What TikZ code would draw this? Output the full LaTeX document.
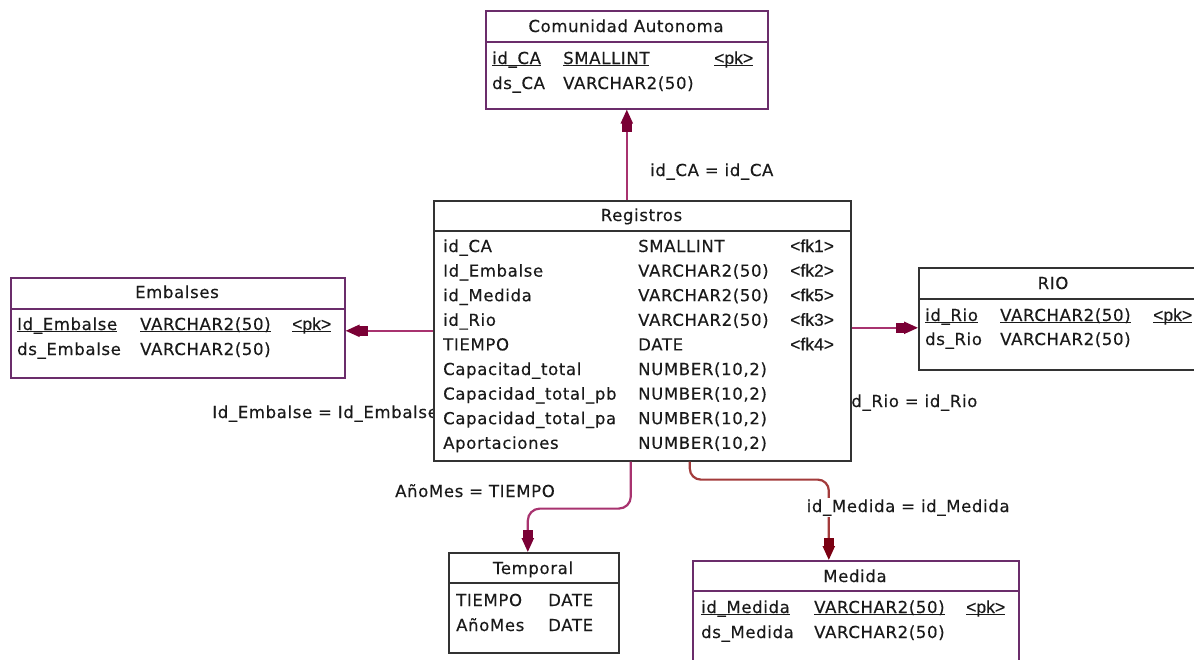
\documentclass[tikz,border=0pt]{standalone}
\usepackage{fontspec}
\setmainfont[LetterSpace=4,FakeBold=0.35]{DejaVu Sans}
\newfontfamily\tagfont[FakeBold=0.35]{Liberation Sans}
\usetikzlibrary{arrows.meta}

\definecolor{entline}{HTML}{6B2D6B}
\definecolor{tabline}{HTML}{333333}
\definecolor{relline}{HTML}{A8336F}
\definecolor{reltip}{HTML}{7A0035}
\definecolor{medline}{HTML}{A33B3B}
\definecolor{medtip}{HTML}{7A0012}
\definecolor{ink}{HTML}{1A1A1A}

% underline a key column, the rule sitting on the underscore line
\newcommand\pkul[1]{\setbox0=\hbox{#1}\rlap{\rule[-2.4pt]{\wd0}{1.1pt}}\box0}
% key tags such as <pk> and <fk1>
\newcommand\keytag[1]{{\tagfont\fontsize{17.5}{20}\selectfont #1}}

\tikzset{
  tabbox/.style={draw=#1, line width=1.6pt, fill=white, anchor=north west, inner sep=0pt},
  tabbox/.default=entline,
  sepline/.style={draw=#1, line width=1.4pt},
  sepline/.default=entline,
  title/.style={inner sep=0pt, anchor=base, text=ink},
  row/.style={inner sep=0pt, anchor=base west, text=ink},
  rellabel/.style={inner sep=0pt, text=ink},
  reltipshape/.style={-{Rectangle[length=11pt,width=9.5pt,color=#1,sep=-3pt]Triangle[length=14pt,width=12pt,color=#1]}},
  rel/.style={draw=relline, line width=2.2pt, reltipshape=reltip},
  relmed/.style={draw=medline, line width=2.2pt, reltipshape=medtip},
}

\begin{document}
\begin{tikzpicture}[x=1pt,y=-1pt,font=\fontsize{16.5}{20}\selectfont]
\useasboundingbox (0,0) rectangle (1194,659);
\fill[white] (0,0) rectangle (1194,659);
\clip (0,0) rectangle (1194,659);

% join labels partly hidden behind the Registros table
\node[rellabel, anchor=base east] (lblemb) at (438,418) {Id\_Embalse = Id\_Embalse};
\node[rellabel, anchor=base west] (lblrio) at (846,407) {id\_Rio = id\_Rio};

% ---------- Comunidad Autonoma ----------
\node[tabbox, minimum width=282pt, minimum height=98pt] (ca) at (485,10) {};
\draw[sepline] (ca.west |- 0,42) -- (ca.east |- 0,42);
\node[title] (catitle) at (626,32) {Comunidad Autonoma};
\node[row] (car1) at (492,64) {\makebox[71pt][l]{\pkul{id\_CA}}\makebox[151pt][l]{\pkul{SMALLINT}}\pkul{\keytag{<pk>}}};
\node[row] (car2) at (492,89) {\makebox[71pt][l]{ds\_CA}VARCHAR2(50)};

% ---------- Registros ----------
\node[tabbox=tabline, minimum width=417pt, minimum height=260pt] (reg) at (433,200) {};
\draw[sepline=tabline] (reg.west |- 0,231) -- (reg.east |- 0,231);
\node[title] (regtitle) at (641.5,221) {Registros};
\node[row] (regr1) at (443,252.0) {\makebox[195pt][l]{id\_CA}\makebox[152pt][l]{SMALLINT}\keytag{<fk1>}};
\node[row] (regr2) at (443,276.6) {\makebox[195pt][l]{Id\_Embalse}\makebox[152pt][l]{VARCHAR2(50)}\keytag{<fk2>}};
\node[row] (regr3) at (443,301.2) {\makebox[195pt][l]{id\_Medida}\makebox[152pt][l]{VARCHAR2(50)}\keytag{<fk5>}};
\node[row] (regr4) at (443,325.8) {\makebox[195pt][l]{id\_Rio}\makebox[152pt][l]{VARCHAR2(50)}\keytag{<fk3>}};
\node[row] (regr5) at (443,350.4) {\makebox[195pt][l]{TIEMPO}\makebox[152pt][l]{DATE}\keytag{<fk4>}};
\node[row] (regr6) at (443,375.0) {\makebox[195pt][l]{Capacitad\_total}NUMBER(10,2)};
\node[row] (regr7) at (443,399.6) {\makebox[195pt][l]{Capacidad\_total\_pb}NUMBER(10,2)};
\node[row] (regr8) at (443,424.2) {\makebox[195pt][l]{Capacidad\_total\_pa}NUMBER(10,2)};
\node[row] (regr9) at (443,448.8) {\makebox[195pt][l]{Aportaciones}NUMBER(10,2)};

% ---------- Embalses ----------
\node[tabbox, minimum width=334pt, minimum height=100pt] (emb) at (10,277) {};
\draw[sepline] (emb.west |- 0,309) -- (emb.east |- 0,309);
\node[title] (embtitle) at (177,298) {Embalses};
\node[row] (embr1) at (17,330) {\makebox[123pt][l]{\pkul{Id\_Embalse}}\makebox[152pt][l]{\pkul{VARCHAR2(50)}}\pkul{\keytag{<pk>}}};
\node[row] (embr2) at (17,355) {\makebox[123pt][l]{ds\_Embalse}VARCHAR2(50)};

% ---------- RIO ----------
\node[tabbox=tabline, minimum width=278pt, minimum height=102pt] (rio) at (918,267) {};
\draw[sepline=tabline] (rio.west |- 0,299) -- (rio.east |- 0,299);
\node[title] (riotitle) at (1053,289) {RIO};
\node[row] (rior1) at (925,321) {\makebox[75pt][l]{\pkul{id\_Rio}}\makebox[153pt][l]{\pkul{VARCHAR2(50)}}\pkul{\keytag{<pk>}}};
\node[row] (rior2) at (925,345) {\makebox[75pt][l]{ds\_Rio}VARCHAR2(50)};

% ---------- Temporal ----------
\node[tabbox=tabline, minimum width=170pt, minimum height=100pt] (tmp) at (448,552) {};
\draw[sepline=tabline] (tmp.west |- 0,583) -- (tmp.east |- 0,583);
\node[title] (tmptitle) at (533,574) {Temporal};
\node[row] (tmpr1) at (456,606) {\makebox[92pt][l]{TIEMPO}DATE};
\node[row] (tmpr2) at (456,631) {\makebox[92pt][l]{AñoMes}DATE};

% ---------- Medida ----------
\node[tabbox, minimum width=326pt, minimum height=112pt] (med) at (692,560) {};
\draw[sepline] (med.west |- 0,591) -- (med.east |- 0,591);
\node[title] (medtitle) at (855,582) {Medida};
\node[row] (medr1) at (701,613) {\makebox[113pt][l]{\pkul{id\_Medida}}\makebox[152pt][l]{\pkul{VARCHAR2(50)}}\pkul{\keytag{<pk>}}};
\node[row] (medr2) at (701,638) {\makebox[113pt][l]{ds\_Medida}VARCHAR2(50)};

% ---------- references ----------
\draw[rel] (reg.north -| ca.south) -- (ca.south);
\draw[rel] (reg.west) -- (reg.west -| emb.east);
\draw[rel] ([yshift=-9pt]rio.west -| reg.east) -- ([yshift=-9pt]rio.west);
\draw[rel, rounded corners=12pt] ([xshift=-11.5pt]reg.south) -- ++(0,47) -| ([xshift=-6pt]tmp.north);
\draw[relmed, rounded corners=11pt] ([xshift=47.5pt]reg.south) -- ++(0,18) -| ([xshift=-27pt]med.north);

% join labels
\node[rellabel, anchor=base west] (lblca) at (650,176) {id\_CA = id\_CA};
\node[rellabel, anchor=base west] (lbltmp) at (395,497) {AñoMes = TIEMPO};
\node[rellabel, anchor=base west, fill=white, inner sep=1.5pt] (lblmed) at (805,512) {id\_Medida = id\_Medida};
\end{tikzpicture}
\end{document}
